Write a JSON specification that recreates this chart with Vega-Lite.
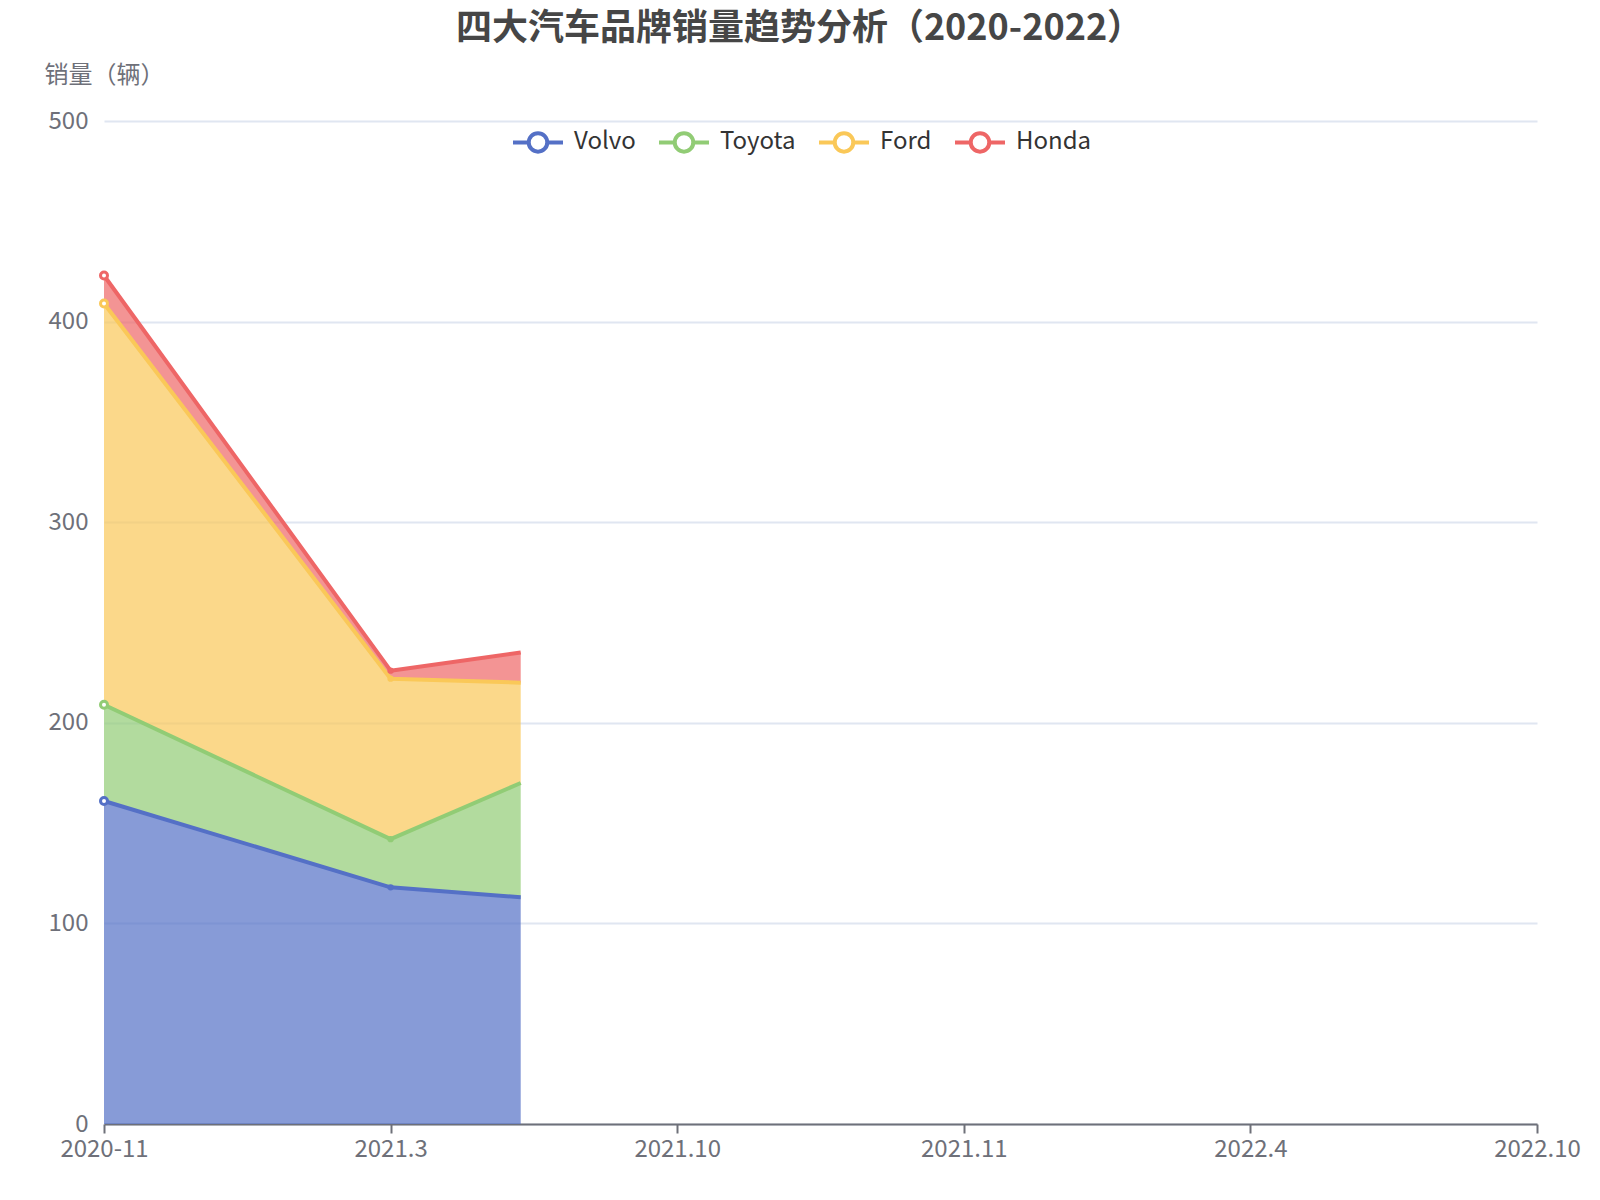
{
  "$schema": "https://vega.github.io/schema/vega-lite/v6.json",
  "width": 1433,
  "height": 1003,
  "autosize": {"type": "none"},
  "padding": {"left": 104, "top": 121, "right": 63, "bottom": 76},
  "background": "#ffffff",
  "title": {
    "text": "四大汽车品牌销量趋势分析（2020-2022）",
    "anchor": "middle",
    "frame": "group",
    "dx": -21,
    "offset": 15,
    "font": "Noto Sans CJK SC",
    "fontSize": 36,
    "fontWeight": "bold",
    "color": "#464646"
  },
  "config": {
    "view": {"stroke": null},
    "axis": {
      "labelFont": "Noto Sans CJK SC",
      "titleFont": "Noto Sans CJK SC",
      "labelColor": "#6e7079",
      "titleColor": "#6e7079",
      "labelFontSize": 24,
      "titleFontSize": 24,
      "titleFontWeight": "normal"
    },
    "legend": {
      "labelFont": "Noto Sans CJK SC"
    }
  },
  "data": {
    "values": [
      {"idx": 0, "brand": "Volvo", "sales": 161, "rank": 1},
      {"idx": 0, "brand": "Toyota", "sales": 48, "rank": 2},
      {"idx": 0, "brand": "Ford", "sales": 200, "rank": 3},
      {"idx": 0, "brand": "Honda", "sales": 14, "rank": 4},
      {"idx": 1, "brand": "Volvo", "sales": 118, "rank": 1},
      {"idx": 1, "brand": "Toyota", "sales": 24, "rank": 2},
      {"idx": 1, "brand": "Ford", "sales": 80, "rank": 3},
      {"idx": 1, "brand": "Honda", "sales": 4, "rank": 4},
      {"idx": 1.454, "brand": "Volvo", "sales": 113, "rank": 1},
      {"idx": 1.454, "brand": "Toyota", "sales": 57, "rank": 2},
      {"idx": 1.454, "brand": "Ford", "sales": 50, "rank": 3},
      {"idx": 1.454, "brand": "Honda", "sales": 15, "rank": 4}
    ]
  },
  "encoding": {
    "x": {
      "field": "idx",
      "type": "quantitative",
      "scale": {"domain": [0, 5], "nice": false, "zero": false},
      "axis": {
        "title": null,
        "values": [0, 1, 2, 3, 4, 5],
        "labelExpr": "['2020-11','2021.3','2021.10','2021.11','2022.4','2022.10'][datum.value]",
        "grid": false,
        "domainColor": "#6e7079",
        "domainWidth": 2,
        "tickColor": "#6e7079",
        "tickWidth": 2,
        "tickSize": 9,
        "labelPadding": 4,
        "labelFlush": false,
        "labelOverlap": false
      }
    },
    "y": {
      "field": "sales",
      "type": "quantitative",
      "stack": "zero",
      "scale": {"domain": [0, 500], "nice": false},
      "axis": {
        "title": "销量（辆）",
        "titleAngle": 0,
        "titleX": 0,
        "titleY": -46,
        "titleAlign": "center",
        "titleBaseline": "middle",
        "values": [0, 100, 200, 300, 400, 500],
        "domain": false,
        "ticks": false,
        "labelPadding": 16,
        "gridColor": "#e0e6f1",
        "gridWidth": 2
      }
    },
    "order": {"field": "rank", "type": "quantitative"}
  },
  "layer": [
    {
      "mark": {"type": "area", "opacity": 0.7, "interpolate": "linear"},
      "encoding": {
        "fill": {
          "field": "brand",
          "type": "nominal",
          "scale": {"domain": ["Honda", "Ford", "Toyota", "Volvo"], "range": ["#ee6666", "#fac858", "#91cc75", "#5470c6"]},
          "legend": null
        }
      }
    },
    {
      "mark": {"type": "line", "strokeWidth": 4, "strokeJoin": "round"},
      "encoding": {
        "stroke": {
          "field": "brand",
          "type": "nominal",
          "scale": {"domain": ["Volvo", "Toyota", "Ford", "Honda"], "range": ["#5470c6", "#91cc75", "#fac858", "#ee6666"]},
          "legend": {
            "title": null,
            "orient": "none",
            "direction": "horizontal",
            "legendX": 407,
            "legendY": -6,
            "symbolType": "M-1,0L-0.37,0M0.37,0L1,0M0.37,0A0.37,0.37,0,1,1,-0.37,0A0.37,0.37,0,1,1,0.37,0",
            "symbolSize": 2500,
            "symbolStrokeWidth": 4,
            "symbolFillColor": "#ffffff",
            "symbolOpacity": 1,
            "labelFontSize": 24,
            "labelColor": "#333333",
            "labelOffset": 9,
            "columnPadding": 15
          }
        }
      }
    },
    {
      "transform": [{"filter": "datum.idx == 0"}],
      "mark": {"type": "point", "filled": true, "fill": "#ffffff", "size": 49, "strokeWidth": 3, "opacity": 1},
      "encoding": {
        "stroke": {"field": "brand", "type": "nominal"}
      }
    },
    {
      "transform": [{"filter": "datum.idx == 1"}],
      "mark": {"type": "point", "filled": true, "size": 40, "opacity": 1},
      "encoding": {
        "fill": {"field": "brand", "type": "nominal"}
      }
    }
  ]
}
